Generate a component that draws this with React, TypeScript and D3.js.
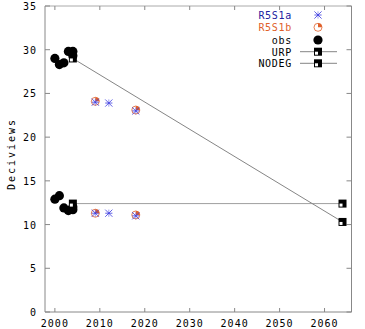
import React from "react";
import * as d3 from "d3";

const xTicks = [2000, 2010, 2020, 2030, 2040, 2050, 2060];
const yTicks = [0, 5, 10, 15, 20, 25, 30, 35];

const obsYears = [2000, 2001, 2002, 2003, 2004, 2004, 2000, 2001, 2002, 2003, 2004, 2004];
const obsValues = [29.0, 28.3, 28.5, 29.8, 29.8, 29.3, 12.9, 13.3, 11.9, 11.6, 11.7, 12.0];

const r5s1aYears = [2009, 2012, 2018, 2009, 2012, 2018];
const r5s1aValues = [24.0, 23.9, 23.0, 11.3, 11.3, 11.0];

const r5s1bYears = [2009, 2018, 2009, 2018];
const r5s1bValues = [24.1, 23.1, 11.3, 11.1];

const urpYears = [2004, 2064];
const urpValues = [29.0, 10.3];

const nodegYears = [2004, 2064];
const nodegValues = [12.4, 12.4];

const legendLabels = ["R5S1a", "R5S1b", "obs", "URP", "NODEG"];

const W = 365, H = 329;
const L = 45, R = 351.5, T = 6, B = 312;
const BLUE = "#3838e0";
const ORANGE = "#e0602a";
const FRAME = "#888";
const FONT = "DejaVu Sans Mono, monospace";

function HalfSquare({ x, y, s = 8 }: { x: number; y: number; s?: number }) {
  const h = s / 2;
  return (
    <g>
      <rect x={x - h} y={y - h} width={s} height={s} fill="#000" />
      <rect x={x - h + 1} y={y} width={h - 1} height={h - 1} fill="#fff" />
    </g>
  );
}

function Asterisk({ x, y, s = 3.6 }: { x: number; y: number; s?: number }) {
  return (
    <g stroke={BLUE} strokeWidth={0.8}>
      <line x1={x - s} y1={y - s} x2={x + s} y2={y + s} />
      <line x1={x - s} y1={y + s} x2={x + s} y2={y - s} />
      <line x1={x - s} y1={y} x2={x + s} y2={y} />
      <line x1={x} y1={y - s} x2={x} y2={y + s} strokeWidth={0.5} />
    </g>
  );
}

function QuarterCircle({ x, y, r = 4 }: { x: number; y: number; r?: number }) {
  const arc = d3.arc()({ innerRadius: 0, outerRadius: r, startAngle: 0, endAngle: Math.PI / 2 }) as string;
  return (
    <g>
      <circle cx={x} cy={y} r={r} fill="none" stroke={ORANGE} strokeWidth={1} opacity={0.8} />
      <path d={arc} transform={`translate(${x},${y})`} fill={ORANGE} />
    </g>
  );
}

export default function App() {
  const xs = d3.scaleLinear().domain([1997.8, 2066]).range([L, R]);
  const ys = d3.scaleLinear().domain([0, 35]).range([B, T]);
  const mk = (yrs: number[], vals: number[]) =>
    d3.line<number>().x((d) => xs(d)).y((_, i) => ys(vals[i]))(yrs) as string;

  const legY = [15, 27.3, 40, 51.7, 63.3];
  const legColors = ["#2020a0", ORANGE, "#000", "#000", "#000"];

  return (
    <svg width={W} height={H} style={{ position: "absolute", left: 0, top: 0 }}>
      <rect width={W} height={H} fill="#fff" />
      {/* frame */}
      <line x1={L} x2={R} y1={T} y2={T} stroke="#aaa" />
      <line x1={L} x2={R} y1={B} y2={B} stroke={FRAME} />
      <line x1={L} x2={L} y1={T} y2={B} stroke={FRAME} />
      <line x1={R} x2={R} y1={T} y2={B} stroke={FRAME} />
      {xTicks.map((t) => (
        <g key={t}>
          <line x1={xs(t)} x2={xs(t)} y1={B} y2={B - 4} stroke={FRAME} />
          <line x1={xs(t)} x2={xs(t)} y1={T} y2={T + 4} stroke={FRAME} />
          <text x={xs(t)} y={327} textAnchor="middle" fontFamily={FONT} fontSize={10} letterSpacing={1} fill="#000">{t}</text>
        </g>
      ))}
      {yTicks.map((t) => (
        <g key={t}>
          <line x1={L} x2={L + 5} y1={ys(t)} y2={ys(t)} stroke={FRAME} />
          <line x1={R} x2={R - 5} y1={ys(t)} y2={ys(t)} stroke={FRAME} />
          <text x={37} y={ys(t) + 4} textAnchor="end" fontFamily={FONT} fontSize={10} letterSpacing={1} fill="#000">{t}</text>
        </g>
      ))}
      <text transform="translate(15,154) rotate(-90)" textAnchor="middle" fontFamily={FONT} fontSize={10} letterSpacing={2} fill="#000">Deciviews</text>

      {/* lines */}
      <path d={mk(urpYears, urpValues)} fill="none" stroke="#666" strokeWidth={0.8} />
      <path d={mk(nodegYears, nodegValues)} fill="none" stroke="#888" strokeWidth={0.8} />

      {/* obs */}
      {obsYears.map((yr, i) => (
        <circle key={i} cx={xs(yr)} cy={ys(obsValues[i])} r={4.6} fill="#000" />
      ))}
      {urpYears.map((yr, i) => <HalfSquare key={"u" + i} x={xs(yr)} y={ys(urpValues[i])} />)}
      {nodegYears.map((yr, i) => <HalfSquare key={"n" + i} x={xs(yr)} y={ys(nodegValues[i])} />)}

      {r5s1bYears.map((yr, i) => <QuarterCircle key={"b" + i} x={xs(yr)} y={ys(r5s1bValues[i])} />)}
      {r5s1aYears.map((yr, i) => <Asterisk key={"a" + i} x={xs(yr)} y={ys(r5s1aValues[i])} />)}

      {/* legend */}
      {legendLabels.map((lab, i) => (
        <text key={lab} x={292} y={legY[i] + 4} textAnchor="end" fontFamily={FONT} fontSize={10} letterSpacing={0.7} fill={legColors[i]}>{lab}</text>
      ))}
      <Asterisk x={318} y={legY[0]} />
      <QuarterCircle x={318} y={legY[1]} />
      <circle cx={318} cy={legY[2]} r={4.6} fill="#000" />
      {[3, 4].map((i) => (
        <g key={i}>
          <line x1={300} x2={337} y1={legY[i]} y2={legY[i]} stroke="#666" strokeWidth={0.8} />
          <HalfSquare x={318} y={legY[i]} />
        </g>
      ))}
    </svg>
  );
}
